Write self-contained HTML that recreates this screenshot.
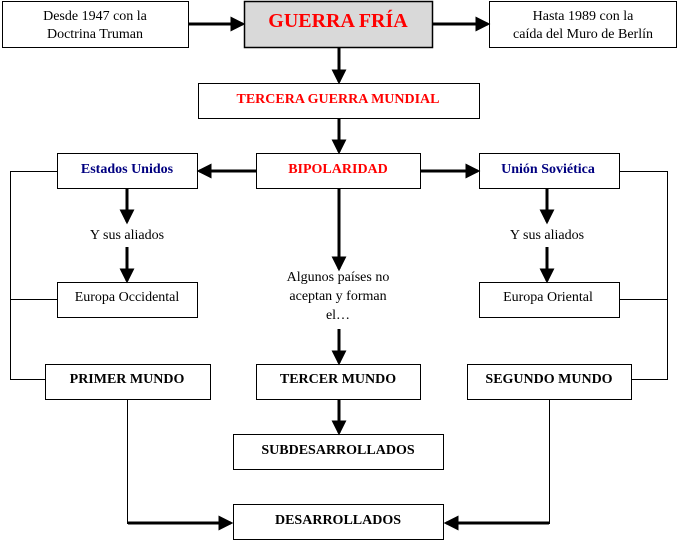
<!DOCTYPE html>
<html><head><meta charset="utf-8"><style>
html,body{margin:0;padding:0;background:#fff;width:679px;height:541px;overflow:hidden}
svg{display:block}
text{font-family:"Liberation Serif",serif;text-anchor:middle}
</style></head><body>
<svg width="679" height="541" viewBox="0 0 679 541" xmlns="http://www.w3.org/2000/svg">
<defs>
<marker id="a" markerWidth="5" markerHeight="5" refX="4.2" refY="2.5" orient="auto" markerUnits="strokeWidth">
<path d="M0,0 L5,2.5 L0,5 z" fill="#000"/></marker>
</defs>
<g fill="#fff" stroke="#000" stroke-width="1">
<rect x="2.5" y="1.5" width="186" height="46"/>
<rect x="244.5" y="1.5" width="188" height="46" fill="#d9d9d9" stroke-width="1.5"/>
<rect x="489.5" y="1.5" width="187" height="46"/>
<rect x="198.5" y="83.5" width="281" height="35"/>
<rect x="57.5" y="153.5" width="140" height="35"/>
<rect x="256.5" y="153.5" width="164" height="35"/>
<rect x="479.5" y="153.5" width="140" height="35"/>
<rect x="57.5" y="282.5" width="140" height="35"/>
<rect x="479.5" y="282.5" width="140" height="35"/>
<rect x="45.5" y="364.5" width="165" height="35"/>
<rect x="256.5" y="364.5" width="164" height="35"/>
<rect x="467.5" y="364.5" width="164" height="35"/>
<rect x="233.5" y="434.5" width="210" height="35"/>
<rect x="233.5" y="504.5" width="210" height="35"/>
</g>
<g stroke="#000" stroke-width="1" fill="none">
<polyline points="57,171.5 10.5,171.5 10.5,379.5 45,379.5"/>
<line x1="10.5" y1="299.5" x2="57" y2="299.5"/>
<polyline points="620,171.5 667.5,171.5 667.5,379.5 632,379.5"/>
<line x1="620" y1="299.5" x2="667.5" y2="299.5"/>
<polyline points="127.5,400 127.5,523.5 150,523.5"/>
<polyline points="549.5,400 549.5,523.5 530,523.5"/>
</g>
<g stroke="#000" stroke-width="3" fill="none" marker-end="url(#a)">
<line x1="189" y1="24" x2="243" y2="24"/>
<line x1="433" y1="24" x2="488" y2="24"/>
<line x1="339" y1="48" x2="339" y2="82"/>
<line x1="339" y1="119" x2="339" y2="152"/>
<line x1="256" y1="171" x2="199" y2="171"/>
<line x1="421" y1="171" x2="478" y2="171"/>
<line x1="127" y1="189" x2="127" y2="222"/>
<line x1="127" y1="247" x2="127" y2="281"/>
<line x1="547" y1="189" x2="547" y2="222"/>
<line x1="547" y1="247" x2="547" y2="281"/>
<line x1="339" y1="189" x2="339" y2="269"/>
<line x1="339" y1="329" x2="339" y2="363"/>
<line x1="339" y1="400" x2="339" y2="433"/>
<line x1="128" y1="523" x2="231" y2="523"/>
<line x1="549" y1="523" x2="446" y2="523"/>
</g>
<g font-size="14">
<text x="95" y="20">Desde 1947 con la</text>
<text x="95" y="38">Doctrina Truman</text>
<text x="583" y="20">Hasta 1989 con la</text>
<text x="583" y="38">caída del Muro de Berlín</text>
<text x="127" y="239">Y sus aliados</text>
<text x="547" y="239">Y sus aliados</text>
<text x="127" y="301">Europa Occidental</text>
<text x="548" y="301">Europa Oriental</text>
<text x="338" y="281">Algunos países no</text>
<text x="338" y="300">aceptan y forman</text>
<text x="338" y="319">el…</text>
</g>
<text x="338" y="27" font-size="20" font-weight="bold" fill="#ff0000">GUERRA FRÍA</text>
<g font-size="14" font-weight="bold">
<text x="338" y="103" fill="#ff0000">TERCERA GUERRA MUNDIAL</text>
<text x="338" y="173" fill="#ff0000">BIPOLARIDAD</text>
<text x="127" y="173" fill="#000080">Estados Unidos</text>
<text x="548" y="173" fill="#000080">Unión Soviética</text>
<text x="127" y="383">PRIMER MUNDO</text>
<text x="338" y="383">TERCER MUNDO</text>
<text x="549" y="383">SEGUNDO MUNDO</text>
<text x="338" y="454">SUBDESARROLLADOS</text>
<text x="338" y="524">DESARROLLADOS</text>
</g>
</svg>
</body></html>
